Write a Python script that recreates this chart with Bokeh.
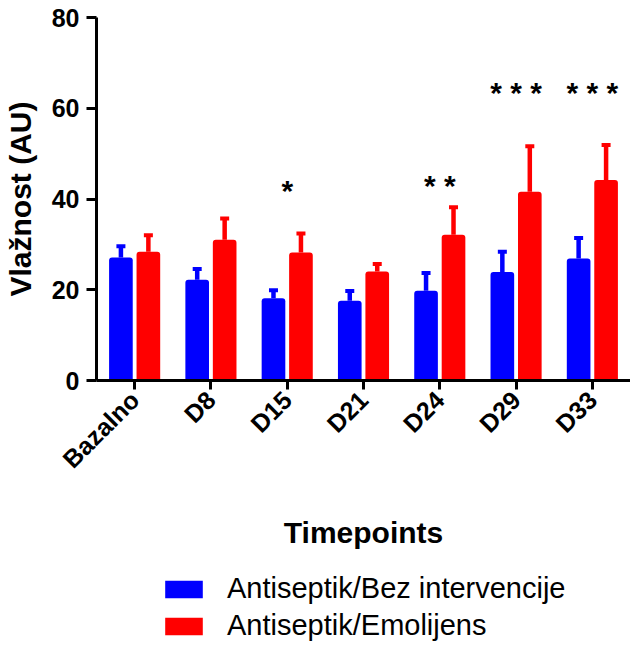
import math
from bokeh.plotting import figure
from bokeh.layouts import column
from bokeh.models import (ColumnDataSource, Whisker, TeeHead, Legend, LegendItem,
                          FactorRange, Range1d, FixedTicker)
from bokeh.transform import dodge
from bokeh.core.properties import value
from bokeh.embed import file_html
from bokeh.resources import INLINE

# ---- data ----
categories = ["Bazalno", "D8", "D15", "D21", "D24", "D29", "D33"]
blue_mean = [27.1, 22.2, 18.1, 17.6, 19.8, 23.9, 26.9]
blue_err = [2.5, 2.4, 1.8, 2.1, 3.9, 4.5, 4.5]
red_mean = [28.4, 31.0, 28.2, 24.0, 32.1, 41.6, 44.2]
red_err = [3.6, 4.7, 4.2, 1.7, 6.1, 10.0, 7.7]
series_names = ["Antiseptik/Bez intervencije", "Antiseptik/Emolijens"]
y_ticks = [0, 20, 40, 60, 80]
star_cats = ["D15", "D24", "D29", "D33"]
star_text = ["*", "* *", "* * *", "* * *"]
star_y = [44.4, 45.5, 65.8, 65.8]

BLUE = "#0000FF"
RED = "#FF0000"
FONT = "Liberation Sans"

src = ColumnDataSource(dict(
    cat=categories,
    blue=blue_mean,
    blue_top=[m + e for m, e in zip(blue_mean, blue_err)],
    red=red_mean,
    red_top=[m + e for m, e in zip(red_mean, red_err)],
))
star_src = ColumnDataSource(dict(cat=star_cats, txt=star_text, y=star_y))

p = figure(x_range=FactorRange(factors=categories, range_padding=0),
           y_range=Range1d(0, 80),
           width=630, height=560, output_backend="svg", toolbar_location=None,
           min_border_left=89, min_border_right=0, min_border_top=17,
           min_border_bottom=180)

off = 0.18
bar_kw = dict(bottom=0, width=0.31, source=src, line_color=None,
              border_radius=(3, 3, 0, 0))
rb = p.vbar(x=dodge("cat", -off, range=p.x_range), top="blue", fill_color=BLUE, **bar_kw)
rr = p.vbar(x=dodge("cat", off, range=p.x_range), top="red", fill_color=RED, **bar_kw)

for col, lo, hi, o in ((BLUE, "blue", "blue_top", -off), (RED, "red", "red_top", off)):
    w = Whisker(source=src, base=dodge("cat", o, range=p.x_range), lower=lo, upper=hi,
                line_color=col, line_width=4.5, lower_head=None,
                upper_head=TeeHead(size=9, line_color=col, line_width=4))
    p.add_layout(w)

p.text(x="cat", y="y", text="txt", source=star_src, text_align="center",
       text_baseline="middle", y_offset=11, text_font=value(FONT),
       text_font_style="bold", text_font_size="30px", text_color="black")

# axes
for ax in (p.xaxis[0], p.yaxis[0]):
    ax.axis_line_width = 3
    ax.axis_line_color = "black"
    ax.major_tick_line_width = 3
    ax.major_tick_line_color = "black"
    ax.major_tick_in = 0
    ax.minor_tick_line_color = None
    ax.major_label_text_font = FONT
    ax.major_label_text_font_style = "bold"
    ax.major_label_text_color = "black"
    ax.axis_label_text_font = FONT
    ax.axis_label_text_font_style = "bold"
    ax.axis_label_text_color = "black"

p.yaxis.ticker = FixedTicker(ticks=y_ticks)
p.yaxis.major_tick_out = 10
p.yaxis.major_label_text_font_size = "25px"
p.yaxis.major_label_standoff = 7
p.yaxis.axis_label = "Vlažnost (AU)"
p.yaxis.axis_label_text_font_size = "30px"
p.yaxis.axis_label_standoff = 12

p.xaxis.major_tick_out = 9
p.xaxis.major_label_orientation = math.pi / 4
p.xaxis.major_label_text_font_size = "25px"
p.xaxis.major_label_standoff = 6
p.xaxis.axis_label = "Timepoints"
p.xaxis.axis_label_text_font_size = "30px"
p.xaxis.axis_label_standoff = 30

p.xgrid.grid_line_color = None
p.ygrid.grid_line_color = None
p.outline_line_color = None

# legend panel: same bars, view window placed away from them so only the legend shows
q = figure(x_range=FactorRange(factors=categories), y_range=Range1d(1000, 1001),
           width=630, height=82, output_backend="svg", toolbar_location=None,
           x_axis_type=None, y_axis_type=None, min_border=0,
           min_border_left=0, min_border_right=0, min_border_top=0, min_border_bottom=0)
q.xgrid.grid_line_color = None
q.ygrid.grid_line_color = None
q.outline_line_color = None
lb = q.vbar(x="cat", top="blue", fill_color=BLUE, **bar_kw)
lr = q.vbar(x="cat", top="red", fill_color=RED, **bar_kw)

legend = Legend(items=[LegendItem(label=series_names[0], renderers=[lb]),
                       LegendItem(label=series_names[1], renderers=[lr])],
                location=(64, 0), orientation="vertical",
                glyph_width=47, glyph_height=22, label_height=22, label_standoff=20,
                spacing=4, padding=0, margin=0, border_line_color=None,
                background_fill_alpha=0, label_text_font=FONT,
                label_text_font_size="29px", label_text_color="black")
q.add_layout(legend)

open("out.html", "w").write(file_html(column(p, q, spacing=0), INLINE))
